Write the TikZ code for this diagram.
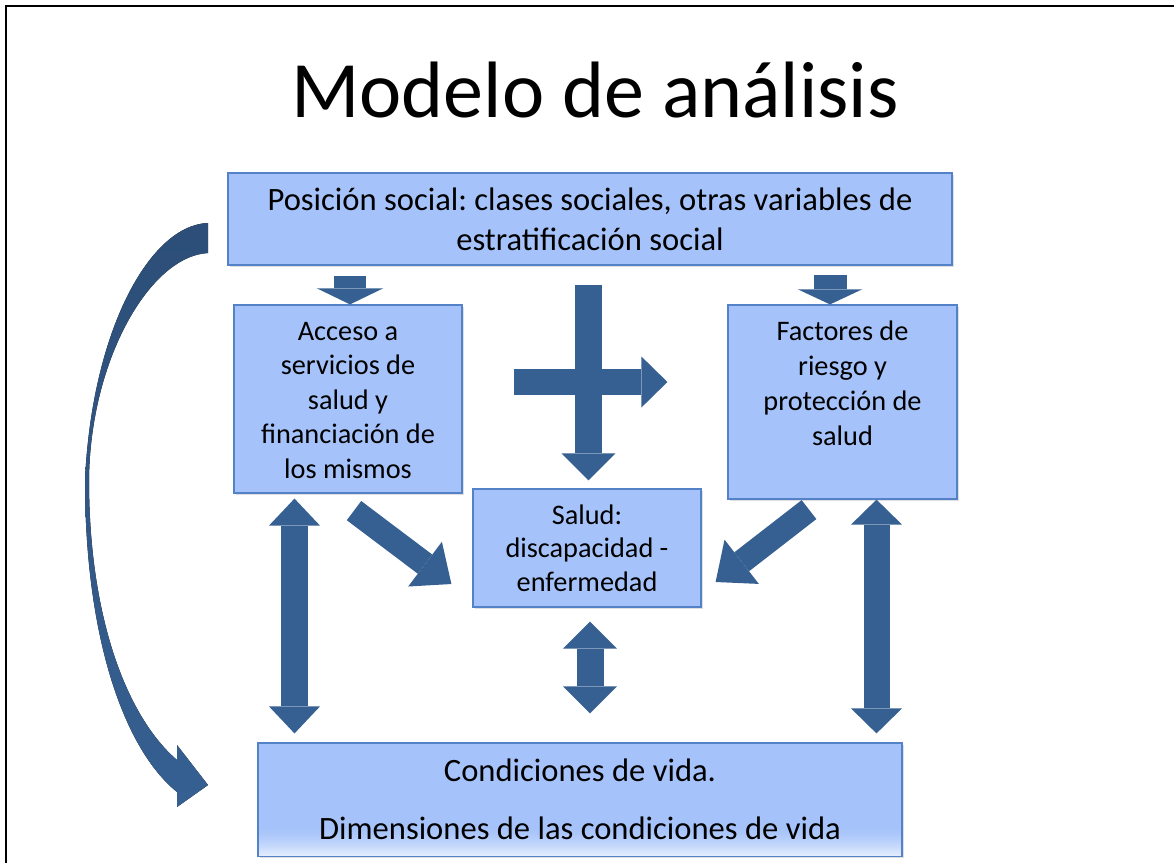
\documentclass[tikz,border=0pt]{standalone}
\usepackage{fontspec}
\setmainfont{Carlito}
\usetikzlibrary{arrows.meta,shadows,calc}
\definecolor{boxfill}{RGB}{165,195,250}
\definecolor{boxline}{RGB}{84,130,200}
\definecolor{arrowblue}{RGB}{54,96,146}
\definecolor{arrowdark}{RGB}{44,78,120}
\definecolor{boxlight}{RGB}{226,236,253}
\frenchspacing
\begin{document}
\begin{tikzpicture}[x=1pt,y=-1pt,
  box/.style={draw=boxline, line width=1.2pt, fill=boxfill,
    drop shadow={opacity=0.25,shadow xshift=1.5pt,shadow yshift=-1.5pt},
    inner sep=0pt, align=center},
  bigtxt/.style={font=\fontsize{32.6}{40}\selectfont, align=center},
  smalltxt/.style={font=\fontsize{28.3}{34.5}\selectfont, align=center},
  sarrow/.style n args={3}{draw=arrowblue, line width=#1,
    -{Triangle[width=#2,length=#3,line width=0pt]}},
  darrow/.style n args={3}{draw=arrowblue, line width=#1,
    {Triangle[width=#2,length=#3,line width=0pt]}-{Triangle[width=#2,length=#3,line width=0pt]}}
]
\useasboundingbox (0,0) rectangle (1174,863);
\fill[white] (0,0) rectangle (1174,863);
% slide frame
\draw[line width=1.5pt] (6,863) -- (6,6) -- (1174,6);

% title
\node[anchor=base, font=\fontsize{80}{96}\selectfont] (title) at (595,117) {Modelo de análisis};

% boxes
\node[box, bigtxt, minimum width=724pt, minimum height=92pt] (top) at (590,219)
  {Posición social: clases sociales, otras variables de\\estratificación social};
\node[box, smalltxt, minimum width=228pt, minimum height=188pt] (acc) at (348,399)
  {\rule{0pt}{21pt}Acceso a\\servicios de\\salud y\\financiación de\\los mismos};
\node[box, minimum width=229pt, minimum height=194pt] (risk) at (842.5,402) {};
\node[smalltxt, font=\fontsize{28.3}{35}\selectfont] (risktxt) at (842.5,383)
  {Factores de\\riesgo y\\protección de\\salud};
\node[box, smalltxt, font=\fontsize{28.3}{33.5}\selectfont, minimum width=228pt, minimum height=118pt] (salud) at (587,548)
  {\rule{0pt}{19pt}Salud:\\discapacidad -\\enfermedad};
\node[box, minimum width=644pt, minimum height=113pt] (cond) at (580,799.5) {};
% lighter band at the bottom of the box (y grows downward here)
\foreach \i in {1,...,30}{
  \pgfmathsetmacro{\pct}{int(100*((30-\i)/29)^1.6)}
  \fill[boxlight!\pct!boxfill] (258.6,857-\i) rectangle (901.4,856-\i);
}
\draw[boxline, line width=1.2pt] (cond.south west) rectangle (cond.north east);
\node[bigtxt] (condtxt) at (cond) {Condiciones de vida.\\[18pt]Dimensiones de las condiciones de vida};

% small arrows from top box
\draw[sarrow={32pt}{66pt}{16pt}] ($(top.south -| acc.north)+(2,10)$) -- ($(acc.north)+(2,0)$);
\draw[sarrow={33pt}{64pt}{15pt}] ($(top.south -| risk.north)+(-12.5,9)$) -- ($(risk.north)+(-12.5,0)$);

% cross arrows
\coordinate (h1) at ($(acc.east |- 0,382)+(51,0)$);
\coordinate (h2) at ($(risk.west |- 0,382)+(-60,0)$);
\draw[sarrow={26pt}{51pt}{26pt}] (h1) -- (h2);
\draw[sarrow={27pt}{54pt}{27pt}] ($(top.south -| salud.north)+(1.5,19)$) -- ($(salud.north)+(1.5,-8)$);

% diagonal arrows to salud
\draw[sarrow={24pt}{56pt}{33pt}] ($(acc.south)+(6,17)$) -- ($(salud.west)+(-21,36)$);
\draw[sarrow={24pt}{56pt}{33pt}] ($(risk.south)+(-33.5,10)$) -- ($(salud.east)+(14,34)$);

% double arrows to condiciones
\draw[darrow={27pt}{51pt}{27pt}] ($(acc.south)+(-53.5,5)$) -- ($(acc.south |- cond.north)+(-53.5,-9)$);
\draw[darrow={26pt}{51pt}{25pt}] ($(risk.south)+(34,0)$) -- ($(risk.south |- cond.north)+(34,-9)$);
\draw[darrow={27pt}{54pt}{27pt}] ($(salud.south)+(3,14)$) -- ($(salud.south |- cond.north)+(3,-29)$);

% curved arrow from top box to condiciones
\fill[top color=arrowdark, bottom color=arrowblue]
  (208,223) .. controls (150,225) and (92,330) .. (85,480)
  .. controls (85,640) and (125,750) .. (177,792)
  -- (177,807) -- (208,785) -- (177,745) -- (177,760)
  .. controls (128,718) and (89,620) .. (89,480)
  .. controls (90,360) and (150,256) .. (208,253) -- cycle;
\end{tikzpicture}
\end{document}
